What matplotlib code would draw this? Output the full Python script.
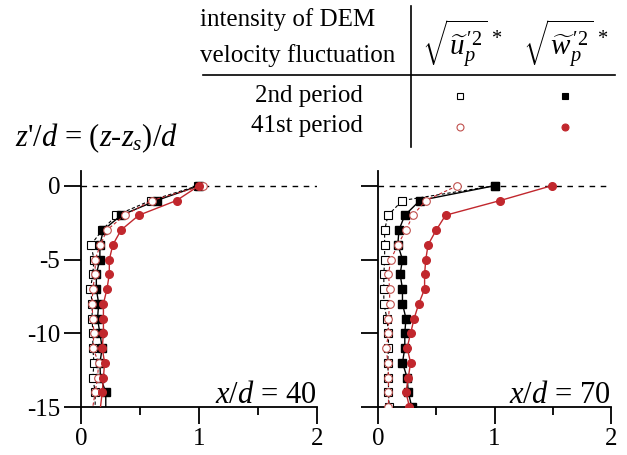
import numpy as np
import matplotlib
matplotlib.use("Agg")
import matplotlib.pyplot as plt
from matplotlib.lines import Line2D

plt.rcParams['font.family'] = 'Liberation Serif'
plt.rcParams['mathtext.fontset'] = 'custom'
plt.rcParams['mathtext.rm'] = 'Liberation Serif'
plt.rcParams['mathtext.it'] = 'Liberation Serif:italic'
plt.rcParams['mathtext.bf'] = 'Liberation Serif:bold'

# depth below the surface, z'/d
z = [0, -1, -2, -3, -4, -5, -6, -7, -8, -9, -10, -11, -12, -13, -14, -15]

# x/d = 40
u_2nd_40 = [0.99, 0.59, 0.30, 0.18, 0.085, 0.11, 0.10, 0.08, 0.095, 0.094, 0.10, 0.10, 0.11, 0.10, 0.12, 0.12]
w_2nd_40 = [1.00, 0.64, 0.34, 0.19, 0.16, 0.16, 0.13, 0.13, 0.15, 0.14, 0.16, 0.18, 0.16, 0.165, 0.21, 0.21]
u_41st_40 = [1.03, 0.60, 0.37, 0.22, 0.165, 0.12, 0.12, 0.10, 0.094, 0.10, 0.11, 0.10, 0.15, 0.14, 0.12, 0.10]
w_41st_40 = [1.00, 0.81, 0.49, 0.34, 0.27, 0.24, 0.24, 0.22, 0.19, 0.19, 0.19, 0.18, 0.20, 0.19, 0.18, 0.165]

# x/d = 70
u_2nd_70 = [1.00, 0.21, 0.086, 0.057, 0.057, 0.057, 0.05, 0.05, 0.05, 0.077, 0.09, 0.09, 0.083, 0.09, 0.09, 0.097]
w_2nd_70 = [1.00, 0.36, 0.23, 0.18, 0.17, 0.21, 0.19, 0.21, 0.21, 0.24, 0.23, 0.23, 0.21, 0.25, 0.26, 0.29]
u_41st_70 = [0.68, 0.41, 0.30, 0.24, 0.17, 0.11, 0.09, 0.10, 0.10, 0.09, 0.09, 0.07, 0.085, 0.09, 0.09, 0.09]
w_41st_70 = [1.49, 1.05, 0.58, 0.50, 0.43, 0.41, 0.40, 0.40, 0.35, 0.31, 0.28, 0.25, 0.28, 0.26, 0.24, 0.27]

RED = '#c1272d'
OPEN_RED = '#c0504d'

W, H = 627, 455
fig = plt.figure(figsize=(W / 100, H / 100), dpi=100)


def px_box(x0, x1, ytop, ybot):
    return [x0 / W, 1 - ybot / H, (x1 - x0) / W, (ybot - ytop) / H]


def draw_profiles(ax, series, label, mark_last):
    every = slice(0, 16) if mark_last else slice(0, 15)
    u2, w2, u41, w41 = series
    ax.plot(u2, z, ls=(0, (3, 2)), lw=0.8, color='black', marker='s', ms=5.5,
            mfc='white', mec='black', mew=0.8, markevery=every, zorder=3)
    ax.plot(w2, z, ls='-', lw=1.0, color='black', marker='s', ms=5.5,
            mfc='black', mec='black', markevery=every, zorder=3)
    ax.plot(u41, z, ls=(0, (3, 2)), lw=0.8, color=RED, marker='o', ms=5.5,
            mfc='white', mec=OPEN_RED, mew=0.8, markevery=every, zorder=4)
    ax.plot(w41, z, ls='-', lw=1.0, color=RED, marker='o', ms=5.5,
            mfc=RED, mec=RED, markevery=every, zorder=4)
    ax.axhline(0, color='black', lw=1.0, ls=(0, (4, 4)), zorder=1)
    ax.set_xlim(0, 2)
    ax.set_ylim(-15, 1)
    ax.set_xticks([0, 1, 2])
    ax.set_xticks([0.5, 1.5], minor=True)
    ax.set_yticks([0, -5, -10, -15])
    for s in ['top', 'right']:
        ax.spines[s].set_visible(False)
    for s in ['left', 'bottom']:
        ax.spines[s].set_linewidth(1.3)
    ax.tick_params(which='major', length=12, width=1.3, labelsize=18, pad=3)
    ax.tick_params(which='minor', length=6, width=1.3)
    ax.text(1.995, -14.7, label, ha='right', va='baseline', fontsize=22)


ax1 = fig.add_axes(px_box(81, 317, 171, 407))
draw_profiles(ax1, (u_2nd_40, w_2nd_40, u_41st_40, w_41st_40), r'$x/d$ = 40', False)
ax1.set_yticklabels(['0', '-5', '-10', '-15'])

ax2 = fig.add_axes(px_box(378, 611, 171, 407))
draw_profiles(ax2, (u_2nd_70, w_2nd_70, u_41st_70, w_41st_70), r'$x/d$ = 70', True)
ax2.set_yticklabels([])

# vertical axis title
fig.text(15 / W, 1 - 146 / H, r"$z$'/$d$ = ($z$-$z_s$)/$d$", fontsize=22, ha='left', va='baseline')

# legend table
fig.text(200 / W, 1 - 26 / H, 'intensity of DEM', fontsize=18, ha='left', va='baseline')
fig.text(200 / W, 1 - 62 / H, 'velocity fluctuation', fontsize=18, ha='left', va='baseline')
fig.text(462 / W, 1 - 44 / H, r"$\sqrt{\widetilde{u}_p^{\,\prime 2}}^{\,*}$", fontsize=21, ha='center', va='center')
fig.text(566 / W, 1 - 44 / H, r"$\sqrt{\widetilde{w}_p^{\,\prime 2}}^{\,*}$", fontsize=21, ha='center', va='center')
fig.text(363 / W, 1 - 102 / H, '2nd period', fontsize=18, ha='right', va='baseline')
fig.text(363 / W, 1 - 132 / H, '41st period', fontsize=18, ha='right', va='baseline')

fig.add_artist(Line2D([203 / W, 615 / W], [1 - 75 / H, 1 - 75 / H], color='black', lw=1.2,
                      transform=fig.transFigure))
fig.add_artist(Line2D([411 / W, 411 / W], [1 - 6 / H, 1 - 147 / H], color='black', lw=1.2,
                      transform=fig.transFigure))

legend_marks = [
    (460, 96, 's', 'white', 'black'),
    (565, 96, 's', 'black', 'black'),
    (460, 127, 'o', 'white', OPEN_RED),
    (565, 127, 'o', RED, RED),
]
for mx, my, mk, fc, ec in legend_marks:
    fig.add_artist(Line2D([mx / W], [1 - my / H], marker=mk, ms=5, mfc=fc, mec=ec, mew=0.8,
                          ls='none', transform=fig.transFigure))

fig.savefig('out.png', dpi=100)
